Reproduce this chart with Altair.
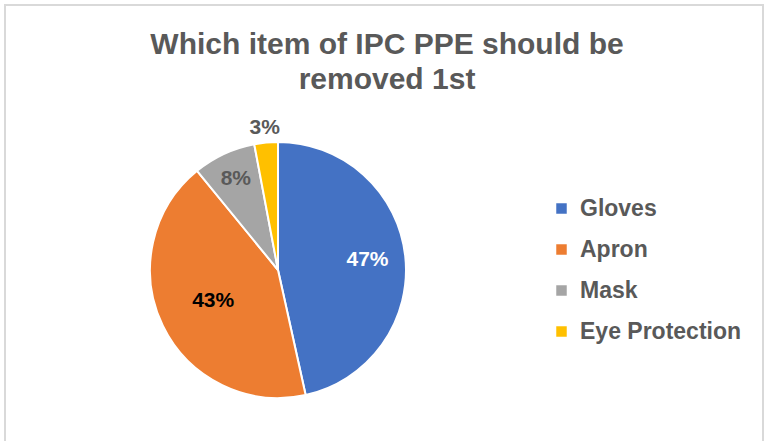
import altair as alt
import pandas as pd

categories = ["Gloves", "Apron", "Mask", "Eye Protection"]
percents = [47, 43, 8, 3]
colors = ["#4472C4", "#ED7D31", "#A5A5A5", "#FFC000"]
title_lines = ["Which item of IPC PPE should be", "removed 1st"]

df = pd.DataFrame({"item": categories, "pct": percents, "idx": list(range(len(categories)))})
df["label"] = [f"{p}%" for p in percents]

W, H = 767, 441
CX, CY, R = 278, 270, 128
FONT = "Liberation Sans"
GREY = "#595959"

base = alt.Chart(df)

color = alt.Color(
    "item:N",
    scale=alt.Scale(domain=categories, range=colors),
    sort=categories,
    legend=alt.Legend(
        title=None,
        orient="none",
        legendX=550,
        legendY=197,
        symbolType="square",
        symbolSize=110,
        symbolStrokeWidth=0,
        labelFont=FONT,
        labelFontSize=23,
        labelFontWeight="bold",
        labelColor=GREY,
        rowPadding=17,
        labelOffset=7,
        labelLimit=300,
    ),
)

frame = alt.Chart(pd.DataFrame({"a": [0]})).mark_rect(
    fill="white", stroke="#d9d9d9", strokeWidth=2
).encode(x=alt.value(5), x2=alt.value(763), y=alt.value(5), y2=alt.value(460))

pie = base.mark_arc(stroke="white", strokeWidth=2, radius=R).encode(
    theta=alt.Theta("pct:Q", stack=True),
    color=color,
    order=alt.Order("idx:Q"),
    x=alt.value(CX),
    y=alt.value(CY),
)

label_cfg = {
    "Gloves": (90, "white"),
    "Apron": (72, "black"),
    "Mask": (100, GREY),
    "Eye Protection": (143, GREY),
}

label_layers = []
for cat, (rad, col) in label_cfg.items():
    label_layers.append(
        base.mark_text(
            radius=rad, font=FONT, fontSize=21, fontWeight="bold", color=col
        ).encode(
            theta=alt.Theta("pct:Q", stack=True),
            order=alt.Order("idx:Q"),
            text="label:N",
            x=alt.value(CX),
            y=alt.value(CY),
            opacity=alt.condition(alt.datum.item == cat, alt.value(1), alt.value(0)),
        )
    )

tdf = pd.DataFrame({"t": title_lines, "line": [0, 1]})
title = alt.Chart(tdf).mark_text(
    font=FONT, fontSize=30, fontWeight="bold", color=GREY, baseline="middle"
).encode(
    text="t:N",
    x=alt.value(387),
    y=alt.Y("line:Q", scale=alt.Scale(domain=[0, 1], range=[45, 80]), axis=None),
)

chart = alt.layer(frame, pie, *label_layers, title).properties(
    width=W, height=H, padding=0, autosize=alt.AutoSizeParams(type="none")
).configure_view(strokeWidth=0).resolve_scale(theta="independent")

chart.save("out.html", embed_options={"renderer": "svg", "actions": False})
